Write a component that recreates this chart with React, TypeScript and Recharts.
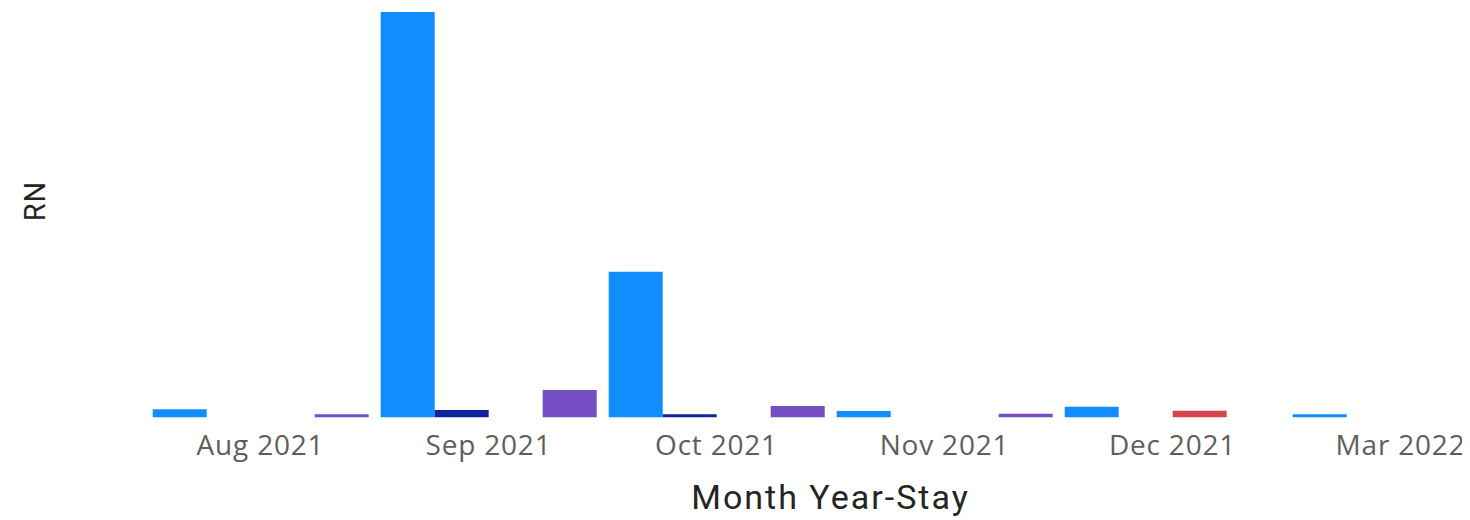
import React from 'react';
import { BarChart, Bar, XAxis, YAxis } from 'recharts';

const categories = ['Aug 2021', 'Sep 2021', 'Oct 2021', 'Nov 2021', 'Dec 2021', 'Mar 2022'];
const seriesA = [24, 1215, 436, 19, 32, 9];
const seriesB = [null, 22, 9, null, null, null];
const seriesC = [null, null, null, null, 20, null];
const seriesD = [9, 82, 34, 11, null, null];
const seriesKeys = ['a', 'b', 'c', 'd'];
const seriesColors = ['#118DFF', '#12239E', '#D64550', '#744EC2'];
const yMax = 1215;

const data = categories.map((month, i) => ({
  month,
  a: seriesA[i],
  b: seriesB[i],
  c: seriesC[i],
  d: seriesD[i],
}));

const TICK_FONT = "'Open Sans', 'Noto Sans', sans-serif";
const TITLE_FONT = "Roboto, 'DejaVu Sans', sans-serif";

const Tick = (props: any) => {
  const { x, y, payload } = props;
  return (
    <text
      x={x}
      y={y + 38}
      textAnchor="middle"
      fill="#605E5C"
      fontFamily={TICK_FONT}
      fontSize={28}
      letterSpacing={0.8}
    >
      {payload.value}
    </text>
  );
};

const XTitle = (props: any) => {
  const vb = props.viewBox || { x: 0, y: 0, width: 0, height: 0 };
  return (
    <text
      x={vb.x + vb.width / 2}
      y={vb.y + 92}
      textAnchor="middle"
      fill="#252423"
      fontFamily={TITLE_FONT}
      fontSize={34}
      fontWeight={400}
      letterSpacing={2}
    >
      Month Year-Stay
    </text>
  );
};

const YTitle = () => (
  <text
    transform="translate(37, 193) rotate(-90)"
    textAnchor="middle"
    fill="#252423"
    fontFamily={TITLE_FONT}
    fontSize={29}
    fontWeight={400}
    letterSpacing={1}
  >
    RN
  </text>
);

export default function App() {
  return (
    <div style={{ width: 1462, height: 512, overflow: 'hidden', position: 'relative', background: '#fff' }}>
      <BarChart
        width={1520}
        height={512}
        data={data}
        margin={{ top: 4, right: 13.5, bottom: 62.7, left: 78.5 }}
        barCategoryGap={6.2}
        barGap={0}
      >
        <XAxis
          dataKey="month"
          height={40}
          axisLine={false}
          tickLine={false}
          tickSize={0}
          tickMargin={0}
          interval={0}
          tick={<Tick />}
          label={{ content: <XTitle /> }}
        />
        <YAxis
          width={60}
          domain={[0, yMax]}
          tick={false}
          axisLine={false}
          tickLine={false}
          label={{ content: <YTitle /> }}
        />
        {seriesKeys.map((k, i) => (
          <Bar key={k} dataKey={k} fill={seriesColors[i]} isAnimationActive={false} />
        ))}
      </BarChart>
    </div>
  );
}
